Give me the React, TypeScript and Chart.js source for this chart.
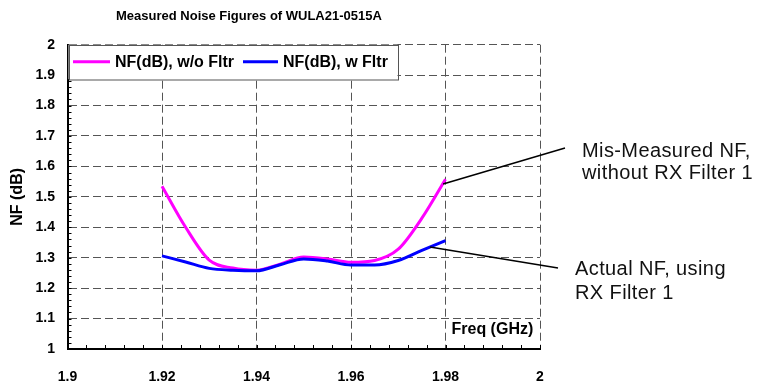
import React, { useEffect, useRef } from 'react';
import { Chart, registerables } from 'chart.js';

Chart.register(...registerables);

// ---- data ----
const chartTitle = 'Measured Noise Figures of WULA21-0515A';
const xAxisLabel = 'Freq (GHz)';
const yAxisLabel = 'NF (dB)';
const seriesNames = ['NF(dB), w/o Fltr', 'NF(dB), w Fltr'];
const freqGHz = [1.92, 1.925, 1.93, 1.935, 1.94, 1.945, 1.95, 1.955, 1.96, 1.965, 1.97, 1.975, 1.98];
const nfWithoutFilter = [1.535, 1.4, 1.292, 1.266, 1.259, 1.279, 1.302, 1.296, 1.285, 1.291, 1.328, 1.43, 1.558];
const nfWithFilter = [1.306, 1.286, 1.265, 1.259, 1.257, 1.277, 1.296, 1.289, 1.276, 1.276, 1.291, 1.324, 1.356];
const xTickValues = [1.9, 1.92, 1.94, 1.96, 1.98, 2.0];
const yTickValues = [1, 1.1, 1.2, 1.3, 1.4, 1.5, 1.6, 1.7, 1.8, 1.9, 2];
const calloutGHz = [1.9795, 1.9767];
const calloutNF = [1.542, 1.335];
const calloutText = [
  ['Mis-Measured NF,', 'without RX Filter 1'],
  ['Actual NF, using', 'RX Filter 1'],
];

const PINK = '#ff00ff';
const BLUE = '#0000ff';
const FONT = "'Liberation Sans', Arial, Helvetica, sans-serif";

const overlayPlugin = {
  id: 'overlay',
  afterDraw(chart: any) {
    const { ctx, chartArea: ca, scales } = chart;
    const x = scales.x;
    const y = scales.y;
    ctx.save();

    // minor tick marks (inside)
    ctx.strokeStyle = '#000';
    ctx.lineWidth = 1;
    ctx.beginPath();
    for (let i = 0; i <= 50; i++) {
      const py = Math.round(y.getPixelForValue(1 + i * 0.02)) + 0.5;
      ctx.moveTo(ca.left, py);
      ctx.lineTo(ca.left + 4, py);
    }
    for (let i = 0; i <= 25; i++) {
      const px = Math.round(x.getPixelForValue(1.9 + i * 0.004)) + 0.5;
      ctx.moveTo(px, ca.bottom);
      ctx.lineTo(px, ca.bottom - 4);
    }
    ctx.stroke();

    // legend box
    const lx = ca.left + 1;
    const ly = ca.top;
    const lw = 329;
    const lh = 34.5;
    ctx.fillStyle = '#fff';
    ctx.fillRect(lx, ly, lw, lh);
    ctx.strokeStyle = '#555';
    ctx.lineWidth = 1;
    ctx.strokeRect(Math.round(lx) + 0.5, Math.round(ly) + 0.5, lw, lh);
    const legendY = ly + 17;
    const items = [
      { color: PINK, x0: 73, x1: 110, tx: 115, text: seriesNames[0] },
      { color: BLUE, x0: 243, x1: 278, tx: 283, text: seriesNames[1] },
    ];
    ctx.font = `bold 16px ${FONT}`;
    ctx.textBaseline = 'middle';
    ctx.textAlign = 'left';
    items.forEach((it) => {
      ctx.strokeStyle = it.color;
      ctx.lineWidth = 3;
      ctx.beginPath();
      ctx.moveTo(it.x0, legendY);
      ctx.lineTo(it.x1, legendY);
      ctx.stroke();
      ctx.fillStyle = '#000';
      ctx.fillText(it.text, it.tx, legendY + 1);
    });

    // title
    ctx.font = `bold 13px ${FONT}`;
    ctx.textBaseline = 'alphabetic';
    ctx.fillStyle = '#000';
    ctx.fillText(chartTitle, 116, 20);

    // x axis label inside plot
    ctx.font = `bold 16px ${FONT}`;
    ctx.fillText(xAxisLabel, x.getPixelForValue(1.98) + 6, ca.bottom - 15);

    // callouts
    const ends = [
      [565, 148],
      [558, 268],
    ];
    const textPos = [
      [582, 157, 178.5],
      [575, 274.5, 298.5],
    ];
    ctx.strokeStyle = '#000';
    ctx.lineWidth = 1.5;
    for (let i = 0; i < 2; i++) {
      const sx = x.getPixelForValue(calloutGHz[i]);
      const sy = y.getPixelForValue(calloutNF[i]);
      ctx.beginPath();
      ctx.moveTo(sx, sy);
      ctx.lineTo(ends[i][0], ends[i][1]);
      ctx.stroke();
    }
    ctx.font = `20px ${FONT}`;
    (ctx as any).letterSpacing = '0.4px';
    ctx.fillStyle = '#111';
    for (let i = 0; i < 2; i++) {
      ctx.fillText(calloutText[i][0], textPos[i][0], textPos[i][1]);
      ctx.fillText(calloutText[i][1], textPos[i][0], textPos[i][2]);
    }
    (ctx as any).letterSpacing = '0px';
    ctx.restore();
  },
};

export default function App() {
  const canvasRef = useRef<HTMLCanvasElement | null>(null);

  useEffect(() => {
    document.body.style.margin = '0';
    const canvas = canvasRef.current;
    if (!canvas) return;
    const chart = new Chart(canvas, {
      type: 'line',
      data: {
        datasets: [
          {
            label: seriesNames[0],
            data: freqGHz.map((f, i) => ({ x: f, y: nfWithoutFilter[i] })),
            borderColor: PINK,
            backgroundColor: PINK,
            borderWidth: 3,
            pointRadius: 0,
            cubicInterpolationMode: 'monotone',
            order: 1,
          },
          {
            label: seriesNames[1],
            data: freqGHz.map((f, i) => ({ x: f, y: nfWithFilter[i] })),
            borderColor: BLUE,
            backgroundColor: BLUE,
            borderWidth: 3,
            pointRadius: 0,
            cubicInterpolationMode: 'monotone',
            order: 0,
          },
        ],
      },
      options: {
        responsive: false,
        animation: false,
        devicePixelRatio: 1,
        layout: { padding: { top: 44.7, right: 218, left: 0, bottom: 0 } },
        plugins: {
          legend: { display: false },
          title: { display: false },
          tooltip: { enabled: false },
        },
        scales: {
          x: {
            type: 'linear',
            min: 1.9,
            max: 2.0,
            afterFit: (s: any) => {
              s.height = 37;
            },
            afterBuildTicks: (s: any) => {
              s.ticks = xTickValues.map((v) => ({ value: v }));
            },
            grid: { color: '#555', lineWidth: 1, drawTicks: false },
            border: { display: true, color: '#000', width: 2, dash: [8, 4] },
            ticks: {
              padding: 20,
              color: '#000',
              font: { family: FONT, size: 14, weight: 'bold' },
              callback: (v: any) => String(+Number(v).toFixed(2)),
              maxRotation: 0,
            },
          },
          y: {
            type: 'linear',
            min: 1,
            max: 2,
            afterFit: (s: any) => {
              s.width = 67.5;
            },
            afterBuildTicks: (s: any) => {
              s.ticks = yTickValues.map((v) => ({ value: v }));
            },
            grid: { color: '#555', lineWidth: 1, drawTicks: false },
            border: { display: true, color: '#000', width: 2, dash: [8, 4] },
            title: {
              display: true,
              text: yAxisLabel,
              color: '#000',
              font: { family: FONT, size: 16, weight: 'bold' },
              padding: { top: 8, bottom: 0 },
            },
            ticks: {
              padding: 12.5,
              color: '#000',
              font: { family: FONT, size: 14, weight: 'bold' },
              callback: (v: any) => String(+Number(v).toFixed(1)),
            },
          },
        },
      },
      plugins: [overlayPlugin],
    } as any);
    return () => chart.destroy();
  }, []);

  return (
    <div style={{ position: 'relative', width: 758, height: 386, background: '#fff' }}>
      <canvas ref={canvasRef} width={758} height={386} style={{ display: 'block', width: 758, height: 386 }} />
    </div>
  );
}
